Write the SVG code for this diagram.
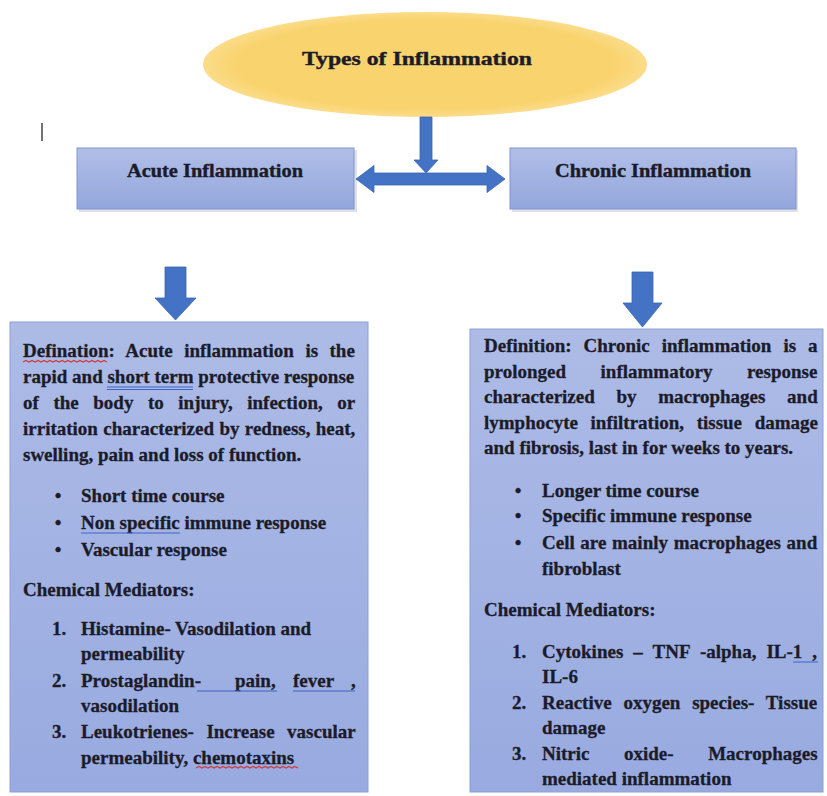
<svg xmlns="http://www.w3.org/2000/svg" width="827" height="796" viewBox="0 0 827 796">
  <defs>
    <linearGradient id="hdrGrad" x1="0" y1="0" x2="0" y2="1">
      <stop offset="0" stop-color="#b1bee7"/>
      <stop offset="1" stop-color="#93a7dd"/>
    </linearGradient>
    <linearGradient id="bodyGrad" x1="0" y1="0" x2="0" y2="1">
      <stop offset="0" stop-color="#adbbe6"/>
      <stop offset="1" stop-color="#98aae0"/>
    </linearGradient>
    <radialGradient id="ellGrad" cx="0.5" cy="0.5" r="0.5">
      <stop offset="0.85" stop-color="#f9d36d"/>
      <stop offset="1" stop-color="#fbdc8a"/>
    </radialGradient>
  </defs>
  <style>
    .t { font-family: "Liberation Serif", "Times New Roman", serif; font-weight: bold; font-size: 19px; fill: #1b1b29; stroke: #1b1b29; stroke-width: 0.3px; }
    .h { font-family: "Liberation Serif", "Times New Roman", serif; font-weight: bold; font-size: 19px; fill: #1b1b29; stroke: #1b1b29; stroke-width: 0.4px; }
    .hdr { fill: url(#hdrGrad); stroke: #8196cf; stroke-width: 1; }
    .shadow { fill: #c9ccd8; opacity: 0.6; }
    .body { fill: url(#bodyGrad); stroke: #8ea0d3; stroke-width: 1; }
    .arrow { fill: #4472c4; stroke: #3b64b3; stroke-width: 0.8; }
    .blueU { stroke: #3f62c4; stroke-width: 1; fill: none; }
    .redU { stroke: #d03a3a; stroke-width: 1.2; fill: none; }
  </style>

  <rect width="827" height="796" fill="#ffffff"/>

  <!-- stray cursor mark -->
  <line x1="42" y1="123" x2="42" y2="141" stroke="#444" stroke-width="1.5"/>

  <g id="types-of-inflammation">
    <ellipse cx="425" cy="64.5" rx="222" ry="52.5" fill="url(#ellGrad)"/>
    <text class="h" x="417" y="65" text-anchor="middle" font-size="20" textLength="230" lengthAdjust="spacingAndGlyphs">Types of Inflammation</text>
  </g>

  <g id="acute-inflammation">
    <rect class="shadow" x="79" y="150" width="278" height="62"/>
    <rect class="hdr" x="77" y="148" width="277" height="61"/>
    <text class="h" x="215" y="177" text-anchor="middle" textLength="176" lengthAdjust="spacingAndGlyphs">Acute Inflammation</text>
  </g>

  <g id="chronic-inflammation">
    <rect class="shadow" x="512" y="150" width="286" height="62"/>
    <rect class="hdr" x="510" y="148" width="286" height="61"/>
    <text class="h" x="653" y="177" text-anchor="middle" textLength="196" lengthAdjust="spacingAndGlyphs">Chronic Inflammation</text>
  </g>

  <g id="connectors">
    <polygon class="arrow" points="420,117 432,117 432,160 438,160 426,173 414,160 420,160"/>
    <polygon class="arrow" points="356,179 374,165.5 374,173 487,173 487,165.5 505,179 487,192.5 487,185 374,185 374,192.5"/>
    <polygon class="arrow" points="165,267 186,267 186,298 196,298 175.5,320 155,298 165,298"/>
    <polygon class="arrow" points="632,272 653,272 653,303 662,303 642.5,327 623,303 632,303"/>
  </g>

  <g id="acute-details">
    <rect class="body" x="10" y="322" width="358" height="470"/>
    <text class="t" x="23" y="357" style="word-spacing:6.7px">Defination: Acute inflammation is the</text>
    <text class="t" x="23" y="383">rapid and short term protective response</text>
    <text class="t" x="23" y="409" style="word-spacing:9.8px">of the body to injury, infection, or</text>
    <text class="t" x="23" y="435" style="word-spacing:0.6px">irritation characterized by redness, heat,</text>
    <text class="t" x="23" y="461">swelling, pain and loss of function.</text>
    <text class="t" y="502"><tspan x="58" text-anchor="middle">•</tspan><tspan x="81">Short time course</tspan></text>
    <text class="t" y="529"><tspan x="58" text-anchor="middle">•</tspan><tspan x="81">Non specific immune response</tspan></text>
    <text class="t" y="556"><tspan x="58" text-anchor="middle">•</tspan><tspan x="81">Vascular response</tspan></text>
    <text class="t" x="23" y="596">Chemical Mediators:</text>
    <text class="t" y="635"><tspan x="52">1.</tspan><tspan x="81">Histamine- Vasodilation and</tspan></text>
    <text class="t" x="81" y="660">permeability</text>
    <text class="t" y="687"><tspan x="52">2.</tspan><tspan x="81">Prostaglandin-</tspan><tspan x="235">pain,</tspan><tspan x="293">fever</tspan><tspan x="351">,</tspan></text>
    <text class="t" x="81" y="712">vasodilation</text>
    <text class="t" y="738"><tspan x="52">3.</tspan><tspan x="81" style="word-spacing:7.7px">Leukotrienes- Increase vascular</tspan></text>
    <text class="t" x="81" y="764">permeability, chemotaxins</text>
    <path class="redU" d="M23,362 l3,-1.5 l3,1.5 l3,-1.5 l3,1.5 l3,-1.5 l3,1.5 l3,-1.5 l3,1.5 l3,-1.5 l3,1.5 l3,-1.5 l3,1.5 l3,-1.5 l3,1.5 l3,-1.5 l3,1.5 l3,-1.5 l3,1.5 l3,-1.5 l3,1.5 l3,-1.5 l3,1.5 l3,-1.5 l3,1.5 l3,-1.5 l3,1.5 l3,-1.5 l3,1.5"/>
    <line class="blueU" x1="107" y1="387" x2="193" y2="387"/>
    <line class="blueU" x1="107" y1="389.5" x2="193" y2="389.5"/>
    <line class="blueU" x1="81" y1="533" x2="180" y2="533"/>
    <line class="blueU" x1="197" y1="691" x2="277" y2="691"/>
    <line class="blueU" x1="293" y1="691" x2="355" y2="691"/>
    <path class="redU" d="M196,768 l3,-1.5 l3,1.5 l3,-1.5 l3,1.5 l3,-1.5 l3,1.5 l3,-1.5 l3,1.5 l3,-1.5 l3,1.5 l3,-1.5 l3,1.5 l3,-1.5 l3,1.5 l3,-1.5 l3,1.5 l3,-1.5 l3,1.5 l3,-1.5 l3,1.5 l3,-1.5 l3,1.5 l3,-1.5 l3,1.5 l3,-1.5 l3,1.5 l3,-1.5 l3,1.5 l3,-1.5 l3,1.5 l3,-1.5 l3,1.5 l3,-1.5 l3,1.5"/>
  </g>

  <g id="chronic-details">
    <rect class="body" x="470" y="329" width="353" height="463"/>
    <text class="t" x="484" y="352" style="word-spacing:7.2px">Definition: Chronic inflammation is a</text>
    <text class="t" x="484" y="378" style="word-spacing:29.8px">prolonged inflammatory response</text>
    <text class="t" x="484" y="403" style="word-spacing:16.9px">characterized by macrophages and</text>
    <text class="t" x="484" y="429" style="word-spacing:7.9px">lymphocyte infiltration, tissue damage</text>
    <text class="t" x="484" y="454">and fibrosis, last in for weeks to years.</text>
    <text class="t" y="497"><tspan x="518" text-anchor="middle">•</tspan><tspan x="542">Longer time course</tspan></text>
    <text class="t" y="522"><tspan x="518" text-anchor="middle">•</tspan><tspan x="542">Specific immune response</tspan></text>
    <text class="t" y="549"><tspan x="518" text-anchor="middle">•</tspan><tspan x="542" style="word-spacing:0.9px">Cell are mainly macrophages and</tspan></text>
    <text class="t" x="542" y="575">fibroblast</text>
    <text class="t" x="484" y="616">Chemical Mediators:</text>
    <text class="t" y="658"><tspan x="512">1.</tspan><tspan x="542" style="word-spacing:5.3px">Cytokines – TNF -alpha, IL-1 ,</tspan></text>
    <text class="t" x="542" y="683">IL-6</text>
    <text class="t" y="709"><tspan x="512">2.</tspan><tspan x="542" style="word-spacing:7px">Reactive oxygen species- Tissue</tspan></text>
    <text class="t" x="542" y="734">damage</text>
    <text class="t" y="760"><tspan x="512">3.</tspan><tspan x="542" style="word-spacing:29.8px">Nitric oxide- Macrophages</tspan></text>
    <text class="t" x="542" y="785">mediated inflammation</text>
    <line class="blueU" x1="793" y1="662" x2="818" y2="662"/>
  </g>
</svg>
